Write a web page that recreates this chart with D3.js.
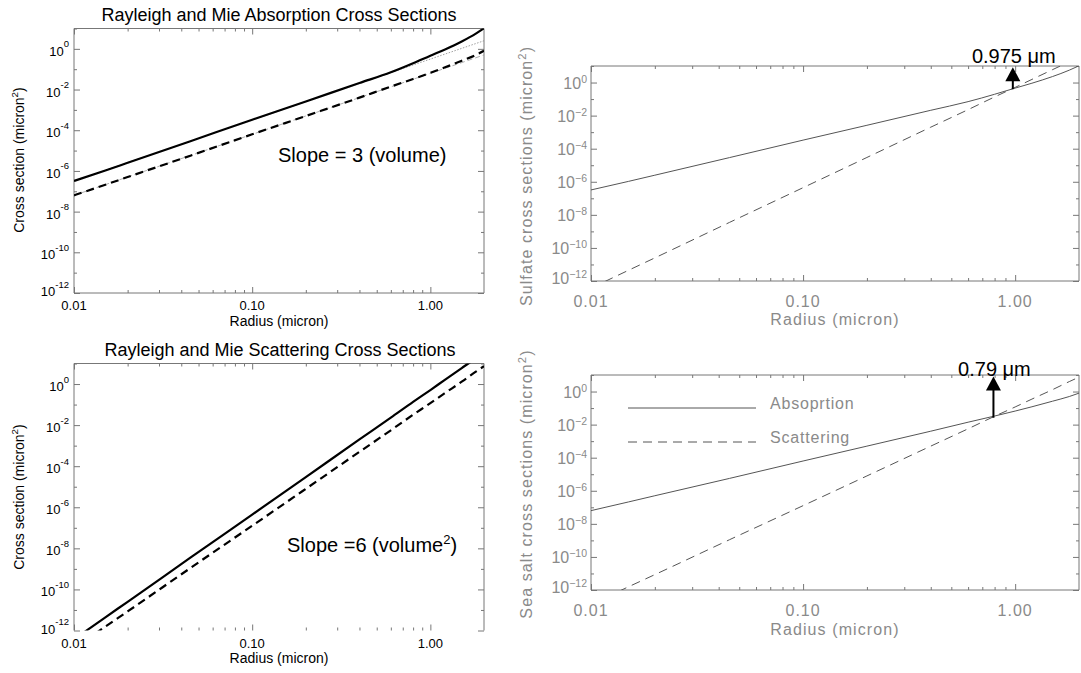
<!DOCTYPE html>
<html>
<head>
<meta charset="utf-8">
<script src="https://cdn.jsdelivr.net/npm/d3@7"></script>
<style>
  body { margin: 0; background: #fff; }
  svg { display: block; }
</style>
</head>
<body>
<script>
// radius grid (micron) that the curves were read on
var radius = [0.01, 0.015, 0.02, 0.045, 0.1, 0.2, 0.4, 0.6, 0.8, 1.0, 1.2, 1.5, 1.8, 2.0];

// Mie cross sections (micron^2)
var sulfateAbs  = [3.2e-7, 1.05e-6, 2.5e-6, 2.9e-5, 3.3e-4, 2.6e-3, 2.1e-2, 7.0e-2, 0.195, 0.46, 0.91, 2.3, 5.6, 10.3];
var seasaltAbs  = [6.3e-8, 2.1e-7, 5.0e-7, 5.6e-6, 6.3e-5, 5.0e-4, 4.0e-3, 1.4e-2, 3.3e-2, 6.6e-2, 0.12, 0.26, 0.5, 0.8];
var sulfateScat = [3.7e-13, 4.4e-12, 2.5e-11, 3.5e-9, 4.4e-7, 2.95e-5, 2.0e-3, 2.3e-2, 0.135, 0.51, 1.55, 6.0, 18, 35];
var seasaltScat = [1.35e-13, 1.55e-12, 8.5e-12, 1.1e-9, 1.26e-7, 7.9e-6, 5.0e-4, 5.6e-3, 3.2e-2, 0.117, 0.35, 1.3, 4.0, 7.4];

// Rayleigh (straight) absorption lines
var rayleighRadius = [0.01, 2.0];
var sulfateAbsRayleigh = [3.2e-7, 2.5];
var seasaltAbsRayleigh = [6.3e-8, 0.5];

// crossover arrows: [radius, value at the foot, value at the tip]
var sulfateCross = [0.975, 0.4, 8.5];
var seasaltCross = [0.79, 0.026, 8];

var xTickValues = [0.01, 0.1, 1];
var xTickLabels = ['0.01', '0.10', '1.00'];
var xMinor = [0.02,0.03,0.04,0.05,0.06,0.07,0.08,0.09,0.2,0.3,0.4,0.5,0.6,0.7,0.8,0.9];
var yMajorExp = [0, -2, -4, -6, -8, -10, -12];
var yMinorExp = [1, -1, -3, -5, -7, -9, -11];

var svg = d3.select('body').append('svg')
    .attr('width', 1081)
    .attr('height', 673);

var font = 'Liberation Sans, Arial, sans-serif';
var clipId = 0;

function zip(xs, ys) {
    return xs.map(function(d, i) { return [d, ys[i]]; });
}

function panel(b) {
    var x = d3.scaleLog().domain([0.01, 2]).range([b.x0, b.x1]);
    var y = d3.scaleLog().domain([1e-12, 10]).range([b.y1, b.y0]);
    var g = svg.append('g');
    var idl = b.style === 'idl';
    var boxColor = '#777';
    var textFill = idl ? '#8a8a8a' : '#000';

    // ticks (inward) via d3 axes
    function axis(gen, tx, ty, vals, size) {
        var a = g.append('g')
            .attr('transform', 'translate(' + tx + ',' + ty + ')')
            .call(gen.tickValues(vals).tickSize(size).tickFormat(''));
        a.select('.domain').remove();
        a.selectAll('line').attr('stroke', boxColor).attr('stroke-width', 1);
    }
    var maj = yMajorExp.map(function(e) { return Math.pow(10, e); });
    var mnr = yMinorExp.map(function(e) { return Math.pow(10, e); });
    axis(d3.axisBottom(x), 0, b.y1, xTickValues, -6);
    axis(d3.axisBottom(x), 0, b.y1, xMinor, -3);
    axis(d3.axisTop(x), 0, b.y0, xTickValues, -6);
    axis(d3.axisTop(x), 0, b.y0, xMinor, -3);
    axis(d3.axisLeft(y), b.x0, 0, maj, -6);
    axis(d3.axisLeft(y), b.x0, 0, mnr, -3);
    axis(d3.axisRight(y), b.x1, 0, maj, -6);
    axis(d3.axisRight(y), b.x1, 0, mnr, -3);

    // frame
    var frame = b.openBottom
        ? 'M' + b.x0 + ',' + b.y1 + 'V' + b.y0 + 'H' + b.x1 + 'V' + b.y1
        : 'M' + b.x0 + ',' + b.y1 + 'V' + b.y0 + 'H' + b.x1 + 'V' + b.y1 + 'Z';
    g.append('path').attr('d', frame).attr('fill', 'none')
        .attr('stroke', boxColor).attr('stroke-width', 1);

    // clip
    var id = 'clip' + (clipId++);
    svg.append('clipPath').attr('id', id).append('rect')
        .attr('x', b.x0).attr('y', b.y0)
        .attr('width', b.x1 - b.x0).attr('height', b.y1 - b.y0);
    var plot = g.append('g').attr('clip-path', 'url(#' + id + ')');
    var line = d3.line()
        .curve(d3.curveMonotoneX)
        .x(function(d) { return x(d[0]); })
        .y(function(d) { return y(d[1]); });

    b.series.forEach(function(s) {
        plot.append('path')
            .attr('d', line(zip(s.x, s.y)))
            .attr('fill', 'none')
            .attr('stroke', s.color)
            .attr('stroke-width', s.width)
            .attr('stroke-dasharray', s.dash || null);
    });

    // y tick labels 10^n
    var lab = g.append('g').attr('font-family', font).attr('fill', textFill);
    yMajorExp.forEach(function(e) {
        var yy = y(Math.pow(10, e));
        if (e === -12) yy -= idl ? 3 : 4;
        var t = lab.append('text')
            .attr('x', b.labX).attr('y', yy + b.baseDy)
            .attr('text-anchor', 'end')
            .attr('font-size', b.tickSize);
        t.append('tspan').text('10');
        t.append('tspan').attr('dy', -b.supUp).attr('font-size', b.supSize)
            .text(e === 0 ? '0' : (idl ? '\u2212' : '-') + Math.abs(e));
    });
    // x tick labels
    xTickValues.forEach(function(v, i) {
        lab.append('text')
            .attr('x', x(v)).attr('y', b.y1 + b.xTickDy)
            .attr('text-anchor', 'middle')
            .attr('font-size', b.tickSize)
            .attr('letter-spacing', idl ? 1 : 0)
            .text(xTickLabels[i]);
    });
    // axis titles
    lab.append('text')
        .attr('x', (b.x0 + b.x1) / 2).attr('y', b.y1 + b.xLabDy)
        .attr('text-anchor', 'middle')
        .attr('font-size', b.labSize)
        .attr('letter-spacing', idl ? 1.1 : 0)
        .text('Radius (micron)');
    var yl = lab.append('text')
        .attr('transform', 'translate(' + b.yLabX + ',' + b.yLabY + ') rotate(-90)')
        .attr('text-anchor', 'middle')
        .attr('font-size', b.labSize)
        .attr('letter-spacing', idl ? 1.1 : 0);
    yl.append('tspan').text(b.yTitle + ' (micron');
    yl.append('tspan').attr('dy', -6).attr('font-size', b.labSize * 0.7).text('2');
    yl.append('tspan').attr('dy', 6).text(')');

    return { x: x, y: y, g: g };
}

// ---- top left: absorption
var tl = panel({
    x0: 74, x1: 484, y0: 28.5, y1: 293, style: 'plain',
    labX: 69, baseDy: 7, supUp: 8.5, tickSize: 13, supSize: 9.5,
    xTickDy: 17, xLabDy: 33, labSize: 14, yLabX: 23.5, yLabY: 160,
    yTitle: 'Cross section',
    series: [
        { x: rayleighRadius, y: sulfateAbsRayleigh, color: '#888', width: 0.8, dash: '1.5,1.5' },
        { x: rayleighRadius, y: seasaltAbsRayleigh, color: '#999', width: 0.8, dash: '5,3' },
        { x: radius, y: sulfateAbs, color: '#000', width: 2.2 },
        { x: radius, y: seasaltAbs, color: '#000', width: 2.2, dash: '8,5' }
    ]
});
tl.g.append('text').attr('x', 279).attr('y', 21).attr('text-anchor', 'middle')
    .attr('font-family', font).attr('font-size', 18)
    .text('Rayleigh and Mie Absorption Cross Sections');
tl.g.append('text').attr('x', 278).attr('y', 162)
    .attr('font-family', font).attr('font-size', 20)
    .text('Slope = 3 (volume)');

// ---- bottom left: scattering
var bl = panel({
    x0: 74, x1: 484, y0: 363.5, y1: 630.5, style: 'plain', openBottom: true,
    labX: 69, baseDy: 7, supUp: 8.5, tickSize: 13, supSize: 9.5,
    xTickDy: 17, xLabDy: 32.5, labSize: 14, yLabX: 23.5, yLabY: 497,
    yTitle: 'Cross section',
    series: [
        { x: radius, y: sulfateScat, color: '#000', width: 2.2 },
        { x: radius, y: seasaltScat, color: '#000', width: 2.2, dash: '8,5' }
    ]
});
bl.g.append('text').attr('x', 280).attr('y', 356).attr('text-anchor', 'middle')
    .attr('font-family', font).attr('font-size', 18)
    .text('Rayleigh and Mie Scattering Cross Sections');
var s6 = bl.g.append('text').attr('x', 287).attr('y', 552)
    .attr('font-family', font).attr('font-size', 20);
s6.append('tspan').text('Slope =6 (volume');
s6.append('tspan').attr('dy', -8).attr('font-size', 13).text('2');
s6.append('tspan').attr('dy', 8).text(')');

// ---- right panels
function arrow(p, c, label, textDy) {
    var ax = p.x(c[0]), yb = p.y(c[1]), yt = p.y(c[2]);
    p.g.append('line').attr('x1', ax).attr('x2', ax).attr('y1', yb).attr('y2', yt + 12)
        .attr('stroke', '#000').attr('stroke-width', 2);
    p.g.append('path')
        .attr('d', 'M' + ax + ',' + yt + 'L' + (ax - 7.5) + ',' + (yt + 14) + 'L' + (ax + 7.5) + ',' + (yt + 14) + 'Z')
        .attr('fill', '#000');
    p.g.append('text').attr('x', ax + 1).attr('y', yt + textDy).attr('text-anchor', 'middle')
        .attr('font-family', font).attr('font-size', 20)
        .attr('fill', '#000')
        .text(label);
}

var tr = panel({
    x0: 591, x1: 1079, y0: 66, y1: 281, style: 'idl',
    labX: 587, baseDy: 6, supUp: 6, tickSize: 16, supSize: 10.5,
    xTickDy: 26, xLabDy: 44, labSize: 16, yLabX: 532, yLabY: 176,
    yTitle: 'Sulfate cross sections',
    series: [
        { x: radius, y: sulfateAbs, color: '#555', width: 1 },
        { x: radius, y: sulfateScat, color: '#555', width: 1, dash: '9,6' }
    ]
});
arrow(tr, sulfateCross, '0.975 \u03bcm', -4);

var br = panel({
    x0: 591, x1: 1079, y0: 375, y1: 590, style: 'idl',
    labX: 587, baseDy: 6, supUp: 6, tickSize: 16, supSize: 10.5,
    xTickDy: 26, xLabDy: 45, labSize: 16, yLabX: 532, yLabY: 484,
    yTitle: 'Sea salt cross sections',
    series: [
        { x: radius, y: seasaltAbs, color: '#555', width: 1 },
        { x: radius, y: seasaltScat, color: '#555', width: 1, dash: '9,6' }
    ]
});
arrow(br, seasaltCross, '0.79 \u03bcm', -1);

// legend in sea salt panel
var legend = [
    { name: 'Absoprtion', dash: null, y: 408 },
    { name: 'Scattering', dash: '9,6', y: 442 }
];
var lg = br.g.append('g');
legend.forEach(function(d) {
    lg.append('line').attr('x1', 628).attr('x2', 756).attr('y1', d.y).attr('y2', d.y)
        .attr('stroke', '#555').attr('stroke-width', 1).attr('stroke-dasharray', d.dash);
    lg.append('text').attr('x', 770).attr('y', d.y + 1)
        .attr('font-family', font).attr('font-size', 16)
        .attr('letter-spacing', 0.8).attr('fill', '#8a8a8a')
        .text(d.name);
});
</script>
</body>
</html>
